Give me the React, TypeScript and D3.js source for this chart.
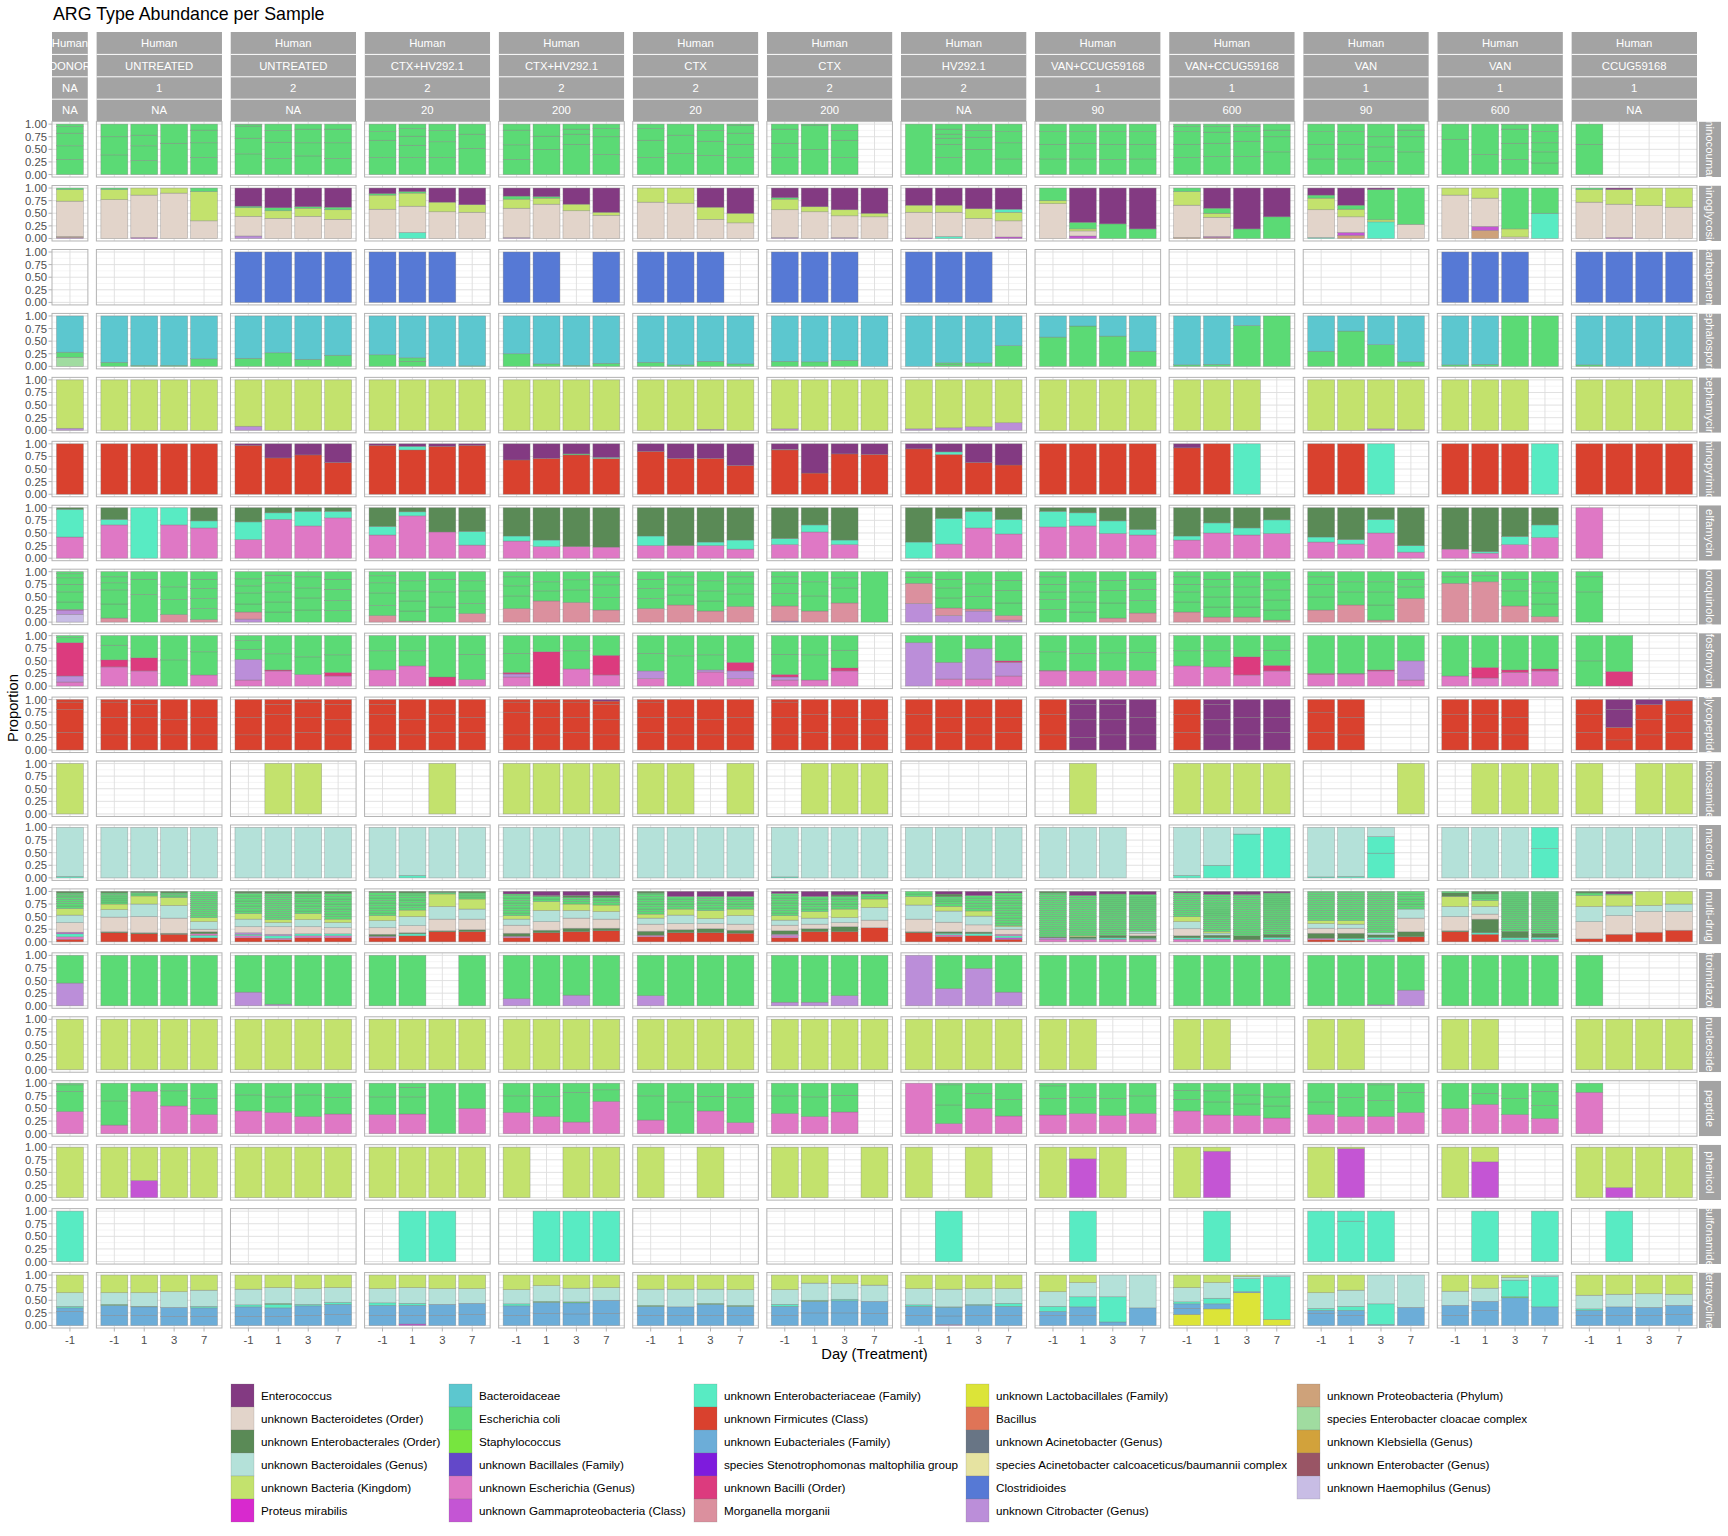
import React from "react"
import * as d3 from "d3"

const WIDTH = 1728
const HEIGHT = 1536
const FONT = "'Liberation Sans', Arial, Helvetica, sans-serif"

// taxa, in legend order (column-major, 6 per column)
const taxonCodes = [
  "EF", "BO", "EO", "BG", "BK", "PM",
  "BC", "EC", "ST", "BF", "EG", "GC",
  "EN", "FC", "EU", "SM", "BI", "MM",
  "LF", "BA", "AC", "AB", "CD", "CI",
  "PP", "ECC", "KL", "ENG", "HA",
]
const taxonNames = [
  "Enterococcus", "unknown Bacteroidetes (Order)", "unknown Enterobacterales (Order)", "unknown Bacteroidales (Genus)", "unknown Bacteria (Kingdom)", "Proteus mirabilis",
  "Bacteroidaceae", "Escherichia coli", "Staphylococcus", "unknown Bacillales (Family)", "unknown Escherichia (Genus)", "unknown Gammaproteobacteria (Class)",
  "unknown Enterobacteriaceae (Family)", "unknown Firmicutes (Class)", "unknown Eubacteriales (Family)", "species Stenotrophomonas maltophilia group", "unknown Bacilli (Order)", "Morganella morganii",
  "unknown Lactobacillales (Family)", "Bacillus", "unknown Acinetobacter (Genus)", "species Acinetobacter calcoaceticus/baumannii complex", "Clostridioides", "unknown Citrobacter (Genus)",
  "unknown Proteobacteria (Phylum)", "species Enterobacter cloacae complex", "unknown Klebsiella (Genus)", "unknown Enterobacter (Genus)", "unknown Haemophilus (Genus)",
]
const taxonColors = [
  "#833a82", "#e2d4ca", "#5a8a56", "#b4e1d9", "#c3e26d", "#d829ce",
  "#5cc7cf", "#5bda75", "#77e53f", "#6348c9", "#df78c5", "#c455d4",
  "#58ebc3", "#d9412e", "#6cadd8", "#7e1bdd", "#dc3b7e", "#db909e",
  "#dce438", "#df7457", "#687585", "#e6e3a1", "#5679d5", "#bb8ed9",
  "#cea27a", "#a0dca0", "#d2a23b", "#995565", "#c8bde5",
]

// column facets
const hosts = ["Human", "Human", "Human", "Human", "Human", "Human", "Human", "Human", "Human", "Human", "Human", "Human", "Human"]
const treatments = ["DONOR", "UNTREATED", "UNTREATED", "CTX+HV292.1", "CTX+HV292.1", "CTX", "CTX", "HV292.1", "VAN+CCUG59168", "VAN+CCUG59168", "VAN", "VAN", "CCUG59168"]
const groups = ["NA", "1", "2", "2", "2", "2", "2", "2", "1", "1", "1", "1", "1"]
const doses = ["NA", "NA", "NA", "20", "200", "20", "200", "NA", "90", "600", "90", "600", "NA"]
const days = ["-1", "1", "3", "7"]
const donorDays = ["-1"]

// row facets
const argTypes = [
  "aminocoumarin", "aminoglycoside", "carbapenem", "cephalosporin", "cephamycin", "diaminopyrimidine",
  "elfamycin", "fluoroquinolone", "fosfomycin", "glycopeptide", "lincosamide", "macrolide",
  "multi-drug", "nitroimidazole", "nucleoside", "peptide", "phenicol", "sulfonamide", "tetracycline",
]

const yTicks = [0, 0.25, 0.5, 0.75, 1]

// one string per column; bars split by "|", segments bottom-to-top as TAXON+proportion
const aminocoumarin = [
  "EC.3 EC.27 EC.25 EC.13 EC.05",
  "EC.39 EC.36 EC.25|EC.28 EC.29 EC.21 EC.22|EC.62 EC.38|EC.34 EC.29 EC.25 EC.12",
  "EC.41 EC.31 EC.24 EC.03 EC.01|EC.32 EC.32 EC.23 EC.13|EC.37 EC.26 EC.27 EC.1|EC.32 EC.31 EC.27 EC.1",
  "EC.34 EC.34 EC.17 EC.15|EC.34 EC.24 EC.18 EC.15 EC.09|EC.34 EC.31 EC.22 EC.13|EC.52 EC.28 EC.2",
  "EC.3 EC.29 EC.29 EC.12|EC.5 EC.26 EC.24|EC.6 EC.2 EC.1 EC.1|EC.4 EC.35 EC.16 EC.09",
  "EC.34 EC.34 EC.23 EC.09|EC.42 EC.36 EC.22|EC.38 EC.28 EC.21 EC.13|EC.34 EC.26 EC.22 EC.16 EC.02",
  "EC.34 EC.28 EC.28 EC.1|EC.5 EC.48 EC.02|EC.34 EC.34 EC.19 EC.13|",
  "EC1|EC.34 EC.26 EC.12 EC.08 EC.1 EC.1|EC.5 EC.24 EC.13 EC.13|EC.31 EC.32 EC.22 EC.15",
  "EC.31 EC.29 EC.25 EC.15|EC.31 EC.31 EC.23 EC.15|EC.3 EC.3 EC.25 EC.15|EC.31 EC.29 EC.25 EC.15",
  "EC.34 EC.26 EC.25 EC.1 EC.05|EC.36 EC.26 EC.22 EC.11 EC.05|EC.36 EC.3 EC.19 EC.1 EC.05|EC.45 EC.3 EC.13 EC.12",
  "EC.31 EC.29 EC.25 EC.15|EC.31 EC.29 EC.25 EC.15|EC.26 EC.29 EC.2 EC.25|EC.45 EC.3 EC.13 EC.12",
  "EC.7 EC.3|EC.4 EC.6|EC.3 EC.32 EC.28 EC.09 EC.01|EC.23 EC.22 EC.18 EC.22 EC.15",
  "EC.6 EC.4|||",
]
const aminoglycoside = [
  "CI.02 PP.02 BO.7 BK.23 EC.03",
  "BO.77 BK.2 EC.03|GC.02 BO.84 BK.14|BO.9 BK.1|BO.35 BK.58 EC.07",
  "CI.05 BO.39 BK.17 EC.03 EF.36|BO.4 BK.15 EC.06 EF.39|BO.44 BK.16 EC.03 EF.37|BO.38 BK.19 EC.05 EF.38",
  "BO.58 BK.28 EC.03 EF.11|EN.12 BO.52 BK.26 EC.03 EF.07|BO.53 BK.19 EF.28|BO.52 BK.15 EF.33",
  "CI.02 BO.58 BK.18 EC.06 EF.16|BO.68 BK.12 EC.03 EF.17|BO.55 BK.13 EF.32|BO.46 BK.06 EF.48",
  "BO.72 BK.28|BO.7 BK.3|BO.38 BK.24 EF.38|BO.31 BK.19 EF.5",
  "CI.02 BO.55 BK.21 EC.03 EF.19|BO.53 BK.1 EF.37|CI.02 BO.43 BK.12 EF.43|BO.43 BK.07 EF.5",
  "GC.01 BO.51 BK.14 EF.34|EN.04 BO.48 BK.14 EF.34|BO.4 BK.19 EF.41|GC.03 BO.32 BK.17 EN.06 EF.42",
  "BO.69 BK.06 EC.25|GC.05 BO.1 BK.04 EC.13 EF.68|EC.29 EF.71|EC.19 EF.81",
  "PP.02 BO.64 BK.27 EC.07|PP.02 GC.02 BO.38 BK.08 EC.1 EF.4|EC.19 EF.81|EC.43 EF.57",
  "EN.02 BO.55 BK.23 EC.06 EF.14|PP.06 GC.06 BO.31 BK.15 EC.08 EF.34|EN.33 BK.04 EC.6 EF.03|BO.28 EC.72",
  "BO.86 BK.14|PP.16 GC.08 BO.56 BK.2|BO.03 BK.16 EC.81|EN.5 EC.5",
  "BO.72 BK.25 EC.03|GC.02 BO.66 BK.29 EF.03|BO.65 BK.35|BO.62 BK.38",
]
const carbapenem = [
  "",
  "|||",
  "CD1|CD1|CD1|CD1",
  "CD1|CD1|CD1|",
  "CD1|CD1||CD1",
  "CD1|CD1|CD1|",
  "CD1|CD1|CD1|",
  "CD1|CD1|CD1|",
  "|||",
  "|||",
  "|||",
  "CD1|CD1|CD1|",
  "CD1|CD1|CD1|CD1",
]
const cephalosporin = [
  "ECC.18 EC.1 BC.72",
  "EC.08 BC.92|EC.02 BC.98|EC.02 BC.98|EC.15 BC.85",
  "EC.16 BC.84|EC.27 BC.73|EC.14 BC.86|EC.22 BC.78",
  "EC.23 BC.77|EC.1 EC.07 BC.83|BC1|EC.01 BC.99",
  "EC.25 BC.75|EC.05 BC.95|EC.02 BC.98|EC.06 BC.94",
  "EC.08 BC.92|EC.03 BC.97|EC.1 BC.9|EC.05 BC.95",
  "EC.1 BC.9|EC.09 BC.91|EC.12 BC.88|BC1",
  "BC1|EC.04 EC.03 BC.93|EC.07 BC.93|EC.41 BC.59",
  "EC.58 BC.42|EC.8 BC.2|EC.6 BC.4|EC.3 BC.7",
  "EC.03 BC.97|EC.04 BC.96|EC.81 BC.19|EC1",
  "EC.3 BC.7|EC.7 BC.3|EC.43 BC.57|EC.09 BC.91",
  "EC.03 BC.97|EC.04 BC.96|EC1|EC1",
  "EC.03 BC.97|BC1|BC1|BC1",
]
const cephamycin = [
  "CI.04 BK.96",
  "BK1|BK1|BK1|BK1",
  "CI.08 BK.92|BK1|BK1|BK1",
  "BK1|BK1|BK1|BK1",
  "BK1|BK1|BK1|BK1",
  "BK1|BK1|CI.02 BK.98|BK1",
  "CI.03 BK.97|BK1|BK1|BK1",
  "CI.03 BK.97|CI.05 BK.95|CI.07 BK.93|CI.15 BK.85",
  "BK1|BK1|BK1|BK1",
  "BK1|BK1|BK1|",
  "BK1|BK1|CI.03 BK.97|CI.01 BK.99",
  "BK1|BK1|BK1|",
  "BK1|BK1|BK1|BK1",
]
const diaminopyrimidine = [
  "FC1",
  "FC1|FC1|FC1|FC1",
  "FC.97 EF.03|FC.72 EF.28|FC.78 EF.22|FC.63 EF.37",
  "FC.97 EF.03|FC.88 EN.07 EF.05|FC.95 EF.05|FC.97 EF.03",
  "FC.68 EF.32|FC.71 EF.29|FC.78 EC.02 EF.2|FC.71 EN.02 EF.27",
  "FC.85 EF.15|FC.71 EF.29|FC.71 EF.29|FC.57 EF.43",
  "FC.88 BO.01 EF.11|FC.42 EF.58|FC.8 EF.2|FC.79 EF.21",
  "FC.9 EF.1|FC.79 EN.05 EF.16|FC.63 EF.37|FC.58 EF.42",
  "FC1|FC1|FC1|FC1",
  "FC.92 EF.08|FC1|EN1|",
  "FC1|FC1|EN1|",
  "FC1|FC1|FC1|EN1",
  "FC1|FC1|FC1|FC1",
]
const elfamycin = [
  "EG.42 EN.55 EO.03",
  "EG.66 EN.11 EO.23|EN1|EG.66 EN.34|EG.6 EN.14 EO.26",
  "EG.37 EN.35 EO.28|EG.77 EN.13 EO.1|EG.64 EN.29 EO.07|EG.8 EN.13 EO.07",
  "EG.46 EN.17 EO.37|EG.84 EN.08 EO.08|EG.52 EO.48|EG.26 EN.27 EO.47",
  "EG.34 EN.1 EO.56|EG.23 EN.13 EO.64|EG.23 EO.77|EG.22 EO.78",
  "EG.25 EN.19 EO.56|EG.25 EO.75|EG.25 EN.07 EO.68|EG.18 EN.18 EO.64",
  "EG.27 EN.12 EO.61|EG.52 EN.14 EO.34|EG.27 EN.09 EO.64|",
  "EN.32 EO.68|EG.28 EN.51 EO.21|EG.6 EN.33 EO.07|EG.48 EN.29 EO.23",
  "EG.62 EN.31 EO.07|EG.64 EN.26 EO.1|EG.49 EN.25 EO.26|EG.46 EN.11 EO.43",
  "EG.36 EN.08 EO.56|EG.5 EN.2 EO.3|EG.46 EN.14 EO.4|EG.49 EN.27 EO.24",
  "EG.32 EN.1 EO.58|EG.28 EN.09 EO.63|EG.5 EN.27 EO.23|EG.12 EN.13 EO.75",
  "EG.18 EO.82|EG.1 EN.03 EO.87|EG.27 EN.16 EO.57|EG.41 EN.25 EO.34",
  "EG1|||",
]
const fluoroquinolone = [
  "HA.15 CI.08 GC.02 EC.15 EC.2 EC.15 EC.13 EC.08 EC.04",
  "MM.08 EC.28 EC.28 EC.14 EC.12 EC.1|EC.55 EC.3 EC.15|MM.15 EC.3 EC.25 EC.3|MM.05 EC.22 EC.2 EC.2 EC.18 EC.15",
  "CI.06 MM.14 EC.16 EC.22 EC.14 EC.14 EC.14|EC.2 EC.2 EC.2 EC.18 EC.15 EC.07|EC.24 EC.24 EC.2 EC.22 EC.1|EC.23 EC.2 EC.22 EC.2 EC.15",
  "MM.13 EC.2 EC.25 EC.2 EC.14 EC.08|MM.02 EC.2 EC.2 EC.2 EC.2 EC.18|EC.3 EC.3 EC.25 EC.15|MM.17 EC.2 EC.25 EC.2 EC.18",
  "MM.27 EC.25 EC.2 EC.18 EC.1|MM.42 EC.2 EC.18 EC.2|MM.39 EC.25 EC.2 EC.16|MM.24 EC.25 EC.25 EC.16 EC.1",
  "MM.27 EC.2 EC.2 EC.18 EC.15|MM.34 EC.2 EC.2 EC.16 EC.1|MM.22 EC.2 EC.2 EC.2 EC.18|MM.31 EC.25 EC.2 EC.14 EC.1",
  "CI.02 MM.3 EC.25 EC.2 EC.13 EC.1|MM.22 EC.3 EC.28 EC.2|MM.38 EC.3 EC.2 EC.12|EC1",
  "CI.37 MM.4 EC.12 EC.11|CI.13 MM.15 EC.2 EC.2 EC.17 EC.15|CI.22 MM.04 EC.25 EC.25 EC.24|CI.04 MM.09 EC.25 EC.25 EC.2 EC.17",
  "EC.25 EC.2 EC.15 EC.15 EC.15 EC.1|EC.2 EC.2 EC.2 EC.2 EC.2|MM.08 EC.3 EC.25 EC.2 EC.17|MM.18 EC.25 EC.22 EC.2 EC.15",
  "MM.2 EC.2 EC.2 EC.15 EC.15 EC.1|MM.1 EC.2 EC.2 EC.2 EC.15 EC.15|MM.1 EC.2 EC.2 EC.2 EC.2 EC.1|MM.04 EC.2 EC.2 EC.2 EC.2 EC.16",
  "MM.24 EC.26 EC.25 EC.15 EC.1|MM.34 EC.26 EC.2 EC.2|MM.04 EC.3 EC.26 EC.2 EC.2|MM.47 EC.23 EC.15 EC.15",
  "MM.77 EC.13 EC.1|MM.8 EC.12 EC.08|MM.32 EC.3 EC.23 EC.15|MM.11 EC.25 EC.22 EC.22 EC.2",
  "EC.6 EC.3 EC.1|||",
]
const fosfomycin = [
  "EG.08 CI.12 BI.66 EC.1 EC.04",
  "EG.38 BI.14 EC.29 EC.19|EG.3 BI.26 EC.44|EC.52 EC.48|EG.22 EC.46 EC.32",
  "EG.12 CI.41 EC.2 EC.17 EC.1|EG.3 BI.02 EC.32 EC.36|EG.23 EC.35 EC.42|EG.2 BI.07 EC.35 EC.38",
  "EG.32 EC.38 EC.3|EG.4 EC.3 EC.3|BI.18 EC.82|EG.13 EC.5 EC.37",
  "EG.18 CI.06 BI.03 EC.38 EC.35|BI.68 EC.32|EG.34 EC.36 EC.3|EG.22 BI.39 EC.39",
  "EG.15 CI.15 EC.35 EC.35|EC.6 EC.4|EG.28 CI.04 EC.3 EC.38|EG.15 CI.15 BI.17 EC.53",
  "EG.12 CI.06 BI.05 EC.4 EC.37|EG.12 EC.5 EC.38|EG.3 BI.06 EC.35 EC.29|",
  "CI.86 EC.14|EG.14 CI.33 EC.53|EG.14 CI.6 EC.26|EG.2 CI.27 BI.03 EC.5",
  "EG.3 BI.01 EC.37 EC.32|EG.3 EC.35 EC.35|EG.31 EC.35 EC.34|EG.31 EC.36 EC.33",
  "EG.4 EC.3 EC.3|EG.38 EC.32 EC.3|EG.22 BI.36 EC.42|EG.3 BI.11 EC.3 EC.29",
  "EG.23 BI.02 EC.75|EG.24 BI.01 EC.75|EG.3 BI.02 EC.68|EG.12 CI.38 EC.5",
  "EG.2 EC.8|EG.16 BI.21 EC.63|EG.27 BI.05 EC.68|EG.3 BI.04 EC.66",
  "EC.5 EC.5|BI.29 EC.71||",
]
const glycopeptide = [
  "FC.35 FC.45 FC.15 FC.05",
  "FC.3 FC.35 FC.3 FC.05|FC.3 FC.35 FC.25 FC.1|FC.3 FC.3 FC.4|FC.3 FC.35 FC.35",
  "FC.3 FC.35 FC.35|FC.3 FC.4 FC.2 FC.1|FC.35 FC.3 FC.3 FC.05|FC.3 FC.3 FC.3 FC.1",
  "FC.3 FC.4 FC.2 FC.1|FC.3 FC.3 FC.4|FC.35 FC.35 FC.3|FC.35 FC.3 FC.35",
  "FC.3 FC.45 FC.2 FC.05|FC.3 FC.35 FC.3 FC.05|FC.35 FC.3 FC.3 FC.05|FC.3 FC.3 FC.3 FC.07 EF.03",
  "FC.35 FC.3 FC.3 FC.05|FC.3 FC.35 FC.35|FC.3 FC.3 FC.4|FC.3 FC.35 FC.35",
  "FC.3 FC.35 FC.3 FC.05|FC.35 FC.35 FC.3|FC.3 FC.35 FC.35|FC.3 FC.3 FC.4",
  "FC.3 FC.4 FC.3|FC.35 FC.3 FC.35|FC.3 FC.35 FC.35|FC.35 FC.3 FC.35",
  "FC.3 FC.4 FC.3|EF.25 EF.35 EF.3 EF.1|EF.3 EF.3 EF.3 EF.1|EF.3 EF.35 EF.35",
  "FC.35 FC.35 FC.3|EF.3 EF.3 EF.3 EF.1|EF.3 EF.35 EF.35|EF.35 EF.3 EF.35",
  "FC.35 FC.4 FC.25|FC.3 FC.35 FC.35||",
  "FC.35 FC.35 FC.3|FC.35 FC.35 FC.3|FC.3 FC.35 FC.35|",
  "FC.35 FC.35 FC.3|FC.2 FC.25 EF.35 EF.2|FC.3 FC.3 FC.3 EF.1|FC.35 FC.35 FC.28 EF.02",
]
const lincosamide = [
  "BK1",
  "|||",
  "|BK1|BK1|",
  "||BK1|",
  "BK1|BK1|BK1|BK1",
  "BK1|BK1||BK1",
  "|BK1|BK1|BK1",
  "|||",
  "|BK1||",
  "BK1|BK1|BK1|BK1",
  "|||BK1",
  "|BK1|BK1|BK1",
  "BK1||BK1|BK1",
]
const macrolide = [
  "EN.03 BG.97",
  "BG1|BG1|BG1|BG1",
  "BG1|BG1|BG1|BG1",
  "BG1|EN.05 BG.95|BG1|BG1",
  "BG1|BG1|BG1|BG1",
  "BG1|BG1|BG1|BG1",
  "EN.02 BG.98|BG1|BG1|BG1",
  "BG1|BG1|BG1|BG1",
  "BG1|BG1|BG1|",
  "EN.05 BG.95|EN.25 BG.75|EN.87 BG.13|EN1",
  "EN.02 BG.98|EN.03 BG.97|EN.49 EN.33 BG.18|",
  "BG1|BG1|BG1|EN.58 EN.42",
  "BG1|BG1|BG1|BG1",
]
const multiDrug = [
  "FC.05 EG.05 EN.06 GC.03 BO.19 BG.15 BK.13 EC.05 EC.05 EC.04 EC.04 EC.04 EC.03 EC.03 EC.03 EO.03",
  "FC.18 EO.02 BO.29 BG.15 BK.11 EC.04 EC.04 EC.04 EC.04 EC.03 EC.03 EO.03|FC.16 EO.02 BO.32 BG.25 BK.16 EC.04 EC.03 EO.02|FC.15 EO.02 BO.3 BG.25 BK.16 EC.03 EC.03 EC.03 EO.03|FC.08 EN.05 EG.03 EO.04 BO.05 BG.15 BK.08 EC.04 EC.04 EC.04 EC.04 EC.04 EC.04 EC.04 EC.04 EC.04 EC.04 EC.04 EC.04 EC.04",
  "FC.08 EG.04 EN.03 CI.03 BO.12 BG.15 BK.11 EC.05 EC.05 EC.05 EC.05 EC.05 EC.05 EC.05 EC.05 EC.01 EO.03|FC.04 EG.03 EN.05 CI.03 BO.15 BG.08 BK.06 EC.04 EC.04 EC.04 EC.04 EC.04 EC.04 EC.04 EC.04 EC.04 EC.04 EC.04 EC.04 EC.04 EO.04|FC.08 EG.04 EN.04 BO.14 BG.14 BK.12 EC.05 EC.05 EC.05 EC.05 EC.05 EC.05 EC.05 EC.05 EO.04|FC.08 EG.04 EN.04 BO.12 BG.1 BK.07 EC.05 EC.05 EC.05 EC.05 EC.05 EC.05 EC.05 EC.05 EC.05 EC.06 EO.04",
  "FC.08 EG.03 EO.04 BO.13 BG.14 BK.1 EC.05 EC.05 EC.05 EC.05 EC.05 EC.05 EC.05 EC.05 EC.06 EO.02|FC.12 EN.04 EO.02 BO.14 BG.18 BK.13 EC.05 EC.05 EC.05 EC.05 EC.05 EC.05 EC.04 EO.03|FC.2 EO.02 BO.23 BG.25 BK.25 EC.03 EO.02|FC.2 EO.04 BO.21 BG.2 BK.2 EC.04 EC.04 EC.04 EO.03",
  "FC.08 EG.03 EO.06 BO.16 BG.12 BK.07 EC.05 EC.05 EC.05 EC.05 EC.05 EC.05 EC.05 EC.05 EC.03 EF.05|FC.18 EO.05 BO.17 BG.22 BK.18 EC.05 EC.05 EO.02 EF.08|FC.2 EO.07 BO.2 BG.15 BK.13 EC.05 EC.04 EC.04 EO.04 EF.08|FC.22 EO.05 BO.18 BG.15 BK.13 EC.05 EC.05 EC.05 EO.04 EF.08",
  "FC.1 EG.03 EO.08 BO.14 BG.12 BK.08 EC.05 EC.05 EC.05 EC.05 EC.05 EC.05 EC.05 EC.05 EC.02 EO.03|FC.18 EO.06 BO.12 BG.17 BK.12 EC.05 EC.05 EC.05 EC.05 EC.05 EF.1|FC.18 EO.08 BO.1 BG.1 BK.16 EC.05 EC.05 EC.05 EC.05 EC.04 EC.04 EF.1|FC.17 EO.06 BO.12 BG.17 BK.13 EC.05 EC.05 EC.05 EC.05 EC.05 EF.1",
  "FC.08 EG.04 CI.03 EO.07 BO.11 BG.1 BK.09 EC.05 EC.05 EC.05 EC.05 EC.05 EC.05 EC.05 EC.05 EC.04 EF.04|FC.2 EO.06 BO.09 BG.12 BK.13 EC.05 EC.05 EC.05 EC.05 EC.05 EC.05 EF.1|FC.2 EO.1 BO.08 BG.1 BK.17 EC.05 EC.05 EC.05 EC.05 EC.05 EO.03 EF.07|FC.28 BO.15 BG.25 BK.17 EC.05 EC.05 EF.05",
  "FC.18 EO.02 BO.25 BG.28 BK.17 EC.05 EC.05|FC.1 EG.03 EN.03 EO.03 BO.18 BG.21 BK.09 EC.05 EC.05 EC.04 EC.04 EO.05 EF.05|FC.12 EN.04 EO.03 BO.14 BG.17 BK.1 EC.05 EC.05 EC.05 EC.05 EC.05 EC.05 EF.08|FC.05 GC.03 EN.04 EG.03 BO.1 BG.05 BK.02 EC.05 EC.05 EC.05 EC.05 EC.05 EC.05 EC.05 EC.05 EC.05 EC.05 EC.05 EC.05 EC.05 EF.03",
  "EG.05 CI.03 EO.02 EC.04 EC.04 EC.04 EC.04 EC.04 EC.04 EC.04 EC.04 EC.04 EC.04 EC.04 EC.04 EC.04 EC.04 EC.04 EC.04 EC.04 EC.04 EC.04 EC.04 EC.04 EC.03 EO.03|EG.05 EN.02 EO.03 BK.02 EC.04 EC.04 EC.04 EC.04 EC.04 EC.04 EC.04 EC.04 EC.04 EC.04 EC.04 EC.04 EC.04 EC.04 EC.04 EC.04 EC.04 EC.04 EC.04 EC.04 EF.08|EG.05 EN.03 EO.05 EC.04 EC.04 EC.04 EC.04 EC.04 EC.04 EC.04 EC.04 EC.04 EC.04 EC.04 EC.04 EC.04 EC.04 EC.04 EC.04 EC.04 EC.04 EC.04 EC.04 EC.02 EF.05|EG.05 EN.02 EO.05 BO.05 BG.04 EC.04 EC.04 EC.04 EC.04 EC.04 EC.04 EC.04 EC.04 EC.04 EC.04 EC.04 EC.04 EC.04 EC.04 EC.04 EC.04 EC.04 EC.05 EF.06",
  "EG.05 EN.03 EO.04 BO.14 BG.14 BK.1 EC.04 EC.04 EC.04 EC.04 EC.04 EC.04 EC.04 EC.04 EC.04 EC.04 EC.04 EC.03 EF.03|EG.05 EN.03 EO.05 BG.04 BK.03 EC.04 EC.04 EC.04 EC.04 EC.04 EC.04 EC.04 EC.04 EC.04 EC.04 EC.04 EC.04 EC.04 EC.04 EC.04 EC.04 EC.04 EC.04 EF.06|EG.04 EO.08 EC.04 EC.04 EC.04 EC.04 EC.04 EC.04 EC.04 EC.04 EC.04 EC.04 EC.04 EC.04 EC.04 EC.04 EC.04 EC.04 EC.04 EC.04 EC.04 EC.04 EC.02 EF.06|EG.05 EN.04 EO.06 EC.04 EC.04 EC.04 EC.04 EC.04 EC.04 EC.04 EC.04 EC.04 EC.04 EC.04 EC.04 EC.04 EC.04 EC.04 EC.04 EC.04 EC.04 EC.04 EC.04 EC.02 EF.03",
  "FC.04 EG.03 EO.1 BO.1 BG.09 BK.06 EC.04 EC.04 EC.04 EC.04 EC.04 EC.04 EC.04 EC.04 EC.04 EC.04 EC.04 EC.04 EC.04 EC.04 EC.02|FC.03 EN.04 EO.1 BO.1 BG.08 BK.07 EC.04 EC.04 EC.04 EC.04 EC.04 EC.04 EC.04 EC.04 EC.04 EC.04 EC.04 EC.04 EC.04 EC.04 EC.02|EG.05 EN.04 EO.05 BG.04 EC.04 EC.04 EC.04 EC.04 EC.04 EC.04 EC.04 EC.04 EC.04 EC.04 EC.04 EC.04 EC.04 EC.04 EC.04 EC.04 EC.04 EC.04 EC.04 EC.04 EC.02|FC.1 EO.1 BO.27 BG.18 EC.05 EC.05 EC.05 EC.05 EC.05 EC.05 EC.05",
  "FC.2 EO.02 BO.28 BG.2 BK.2 EO.07 EC.03|FC.15 EN.03 EO.27 BO.1 BG.15 BK.12 EC.05 EC.04 EC.04 EO.05|EG.04 EN.04 EO.13 EC.04 EC.04 EC.04 EC.04 EC.04 EC.04 EC.04 EC.04 EC.04 EC.04 EC.04 EC.04 EC.04 EC.04 EC.04 EC.04 EC.04 EC.04 EC.04 EC.03|EG.05 EN.04 EO.08 EC.04 EC.04 EC.04 EC.04 EC.04 EC.04 EC.04 EC.04 EC.04 EC.04 EC.04 EC.04 EC.04 EC.04 EC.04 EC.04 EC.04 EC.04 EC.04 EC.04 EC.03",
  "FC.06 BO.34 BG.3 BK.22 EC.05 EO.03|FC.15 BO.37 BG.19 BK.22 EC.02 EF.05|FC.19 BO.41 BG.12 BK.28|FC.23 BO.37 BG.15 BK.25",
]
const nitroimidazole = [
  "CI.45 EC.55",
  "EC1|EC1|EC1|EC1",
  "CI.27 EC.73|CI.03 EC.97|EC1|EC1",
  "EC1|EC1||EC1",
  "CI.14 EC.86|EC1|CI.21 EC.79|EC1",
  "CI.2 EC.8|EC1|EC1|EC1",
  "CI.07 EC.93|CI.07 EC.93|CI.2 EC.8|EC1",
  "CI1|CI.34 EC.66|CI.74 EC.26|CI.27 EC.73",
  "EC1|EC1|EC1|EC1",
  "EC1|EC1|EC1|EC1",
  "EC1|EC1|CI.02 EC.98|CI.31 EC.69",
  "EC1|EC1|EC1|EC1",
  "EC1|||",
]
const nucleoside = [
  "BK1",
  "BK1|BK1|BK1|BK1",
  "BK1|BK1|BK1|BK1",
  "BK1|BK1|BK1|BK1",
  "BK1|BK1|BK1|BK1",
  "BK1|BK1|BK1|BK1",
  "BK1|BK1|BK1|BK1",
  "BK1|BK1|BK1|BK1",
  "BK1|BK1||",
  "BK1|BK1||",
  "BK1|BK1||",
  "BK1|BK1||",
  "BK1|BK1|BK1|BK1",
]
const peptide = [
  "EG.44 EC.4 EC.13 EC.03",
  "EG.17 EC.48 EC.35|EG.84 EC.16|EG.55 EC.3 EC.15|EG.38 EC.32 EC.3",
  "EG.45 EC.32 EC.23|EG.42 EC.31 EC.27|EG.34 EC.43 EC.23|EG.39 EC.33 EC.28",
  "EG.38 EC.35 EC.27|EG.39 EC.34 EC.19 EC.08|EC1|EG.5 EC.5",
  "EG.42 EC.33 EC.25|EG.34 EC.4 EC.26|EG.23 EC.59 EC.18|EG.64 EC.23 EC.13",
  "EG.27 EC.48 EC.25|EC.63 EC.37|EG.45 EC.29 EC.26|EG.22 EC.5 EC.28",
  "EG.4 EC.35 EC.25|EG.34 EC.39 EC.27|EG.43 EC.33 EC.24|",
  "EG1|EG.2 EC.37 EC.4 EC.03|EG.5 EC.3 EC.2|EG.35 EC.33 EC.32",
  "EG.37 EC.33 EC.25 EC.05|EG.4 EC.32 EC.28|EG.36 EC.34 EC.3|EG.4 EC.35 EC.25",
  "EG.45 EC.23 EC.18 EC.14|EG.37 EC.26 EC.22 EC.15|EG.36 EC.23 EC.18 EC.23|EG.31 EC.24 EC.18 EC.27",
  "EG.38 EC.25 EC.37|EG.34 EC.38 EC.28|EG.34 EC.32 EC.31 EC.03|EG.42 EC.4 EC.18",
  "EG.5 EC.5|EG.58 EC.22 EC.2|EG.38 EC.32 EC.3|EG.3 EC.26 EC.28 EC.16",
  "EG.82 EC.18|||",
]
const phenicol = [
  "BK1",
  "BK1|GC.34 BK.66|BK1|BK1",
  "BK1|BK1|BK1|BK1",
  "BK1|BK1|BK1|BK1",
  "BK1||BK1|BK1",
  "BK1||BK1|",
  "BK1|BK1||BK1",
  "BK1||BK1|",
  "BK1|GC.77 BK.23|BK1|",
  "BK1|GC.92 BK.08||",
  "BK1|GC.97 BK.03||",
  "BK1|GC.71 BK.29||",
  "BK1|GC.2 BK.8|BK1|BK1",
]
const sulfonamide = [
  "EN1",
  "|||",
  "|||",
  "|EN1|EN1|",
  "|EN1|EN1|EN1",
  "|||",
  "|||",
  "|EN1||",
  "|EN1||",
  "|EN1||",
  "EN1|EN.8 EN.2|EN1|",
  "|EN1||EN1",
  "|EN1||",
]
const tetracycline = [
  "EU.28 EU.07 EN.03 BG.27 BK.35",
  "EU.2 EU.2 EC.02 BG.23 BK.35|EU.2 EU.17 EC.01 BG.27 BK.35|EU.18 EU.18 BG.31 BK.33|EU.18 EU.17 EN.03 BG.32 BK.3",
  "EU.18 EU.19 EN.04 BG.31 BK.28|EU.18 EU.17 EN.07 EC.02 BG.31 BK.25|EU.2 EU.19 EN.03 BG.31 BK.27|EU.22 EU.2 EN.04 BG.29 BK.25",
  "EU.2 EU.2 EN.05 BG.28 BK.27|GC.03 EU.17 EU.2 EN.04 BG.31 BK.25|EU.2 EU.22 BG.31 BK.27|EU.22 EU.22 BG.29 BK.27",
  "EU.2 EU.19 EN.04 BG.28 BK.29|EU.24 EU.22 EC.02 BG.31 BK.21|EU.23 EU.22 EC.02 BG.27 BK.26|EU.24 EU.26 BG.25 BK.25",
  "EU.2 EU.18 EC.02 BG.32 BK.28|EU.2 EU.17 BG.35 BK.28|EU.2 EU.22 EC.02 BG.28 BK.28|EU.2 EU.18 EC.02 BG.31 BK.29",
  "EU.2 EU.18 EN.04 BG.29 BK.29|EU.25 EU.23 EC.02 BG.34 BK.16|EU.25 EU.24 EN.03 BG.31 BK.17|EU.24 EU.24 BG.32 BK.2",
  "EU.2 EU.18 EN.03 BG.32 BK.27|CI.02 EU.17 EU.17 EN.01 BG.35 BK.28|EU.2 EU.2 EN.02 BG.31 BK.27|EU.2 EU.18 EN.06 BG.29 BK.27",
  "EU.2 EU.08 EN.1 BG.29 BK.33|EU.2 EU.17 EN.2 BG.28 BK.15|EU.07 EN.5 BG.43|EU.35 BG.65",
  "LF.22 EU.12 EU.09 EN.04 BG.28 BK.25|LF.33 EU.1 EN.11 BG.31 BK.15|LF.65 EU.02 EN.26 BG.04 BK.03|LF.12 EN.85 BG.03",
  "EU.24 EU.06 EN.04 BG.31 BK.35|EU.2 EU.1 EN.08 BG.32 BK.3|EU.02 EN.41 BG.57|EU.36 BG.64",
  "EU.2 EU.2 BG.28 BK.32|EU.3 EU.18 BG.26 BK.26|EU.55 EC.02 EN.33 BG.05 BK.05|EU.37 EN.6 BG.03",
  "EU.2 EU.1 EN.03 BG.27 BK.4|EU.2 EU.17 BG.25 BK.38|EU.2 EU.16 BG.27 BK.37|EU.22 EU.18 BG.22 BK.38",
]

const rowData = [
  aminocoumarin, aminoglycoside, carbapenem, cephalosporin, cephamycin, diaminopyrimidine,
  elfamycin, fluoroquinolone, fosfomycin, glycopeptide, lincosamide, macrolide,
  multiDrug, nitroimidazole, nucleoside, peptide, phenicol, sulfonamide, tetracycline,
]

const parseBar = (s) => {
  const toks = s.trim().split(/\s+/).filter(Boolean)
  if (!toks.length) return null
  return toks.map((t) => {
    const m = t.match(/^([A-Z]+)([\d.]+)$/)
    return { code: m[1], value: +m[2] }
  })
}

// layout
const LEFT = 52
const RIGHT = 1697
const STRIP_TOP = 32
const STRIP_ROW = 22.4
const TOP = STRIP_TOP + STRIP_ROW * 4
const BOTTOM = 1328
const GAP = 8.5
const RSTRIP_W = 22

const BAR_STROKE = "#7a7a7a"

export default function App() {
  const colorOf = new Map(taxonCodes.map((c, i) => [c, taxonColors[i]]))
  const colDays = treatments.map((t, i) => (i === 0 ? donorDays : days))
  const units = colDays.map((d) => d.length + 0.2)
  const unit = (RIGHT - LEFT - GAP * (units.length - 1)) / d3.sum(units)
  let cursor = LEFT
  const cols = units.map((u, i) => {
    const x0 = cursor
    const w = u * unit
    cursor += w + GAP
    const x = d3.scaleBand(colDays[i], [x0, x0 + w]).paddingInner(0.1).paddingOuter(0.15)
    return { x0, w, x }
  })
  const ph = (BOTTOM - TOP - GAP * (argTypes.length - 1)) / argTypes.length
  const rows = argTypes.map((name, r) => {
    const y0 = TOP + r * (ph + GAP)
    const y = d3.scaleLinear([-0.05, 1.05], [y0 + ph, y0])
    return { name, y0, y }
  })
  const minor = [0.125, 0.375, 0.625, 0.875]

  const panels = []
  rows.forEach((row, r) => {
    cols.forEach((col, c) => {
      const bars = rowData[r][c].split("|").map(parseBar)
      panels.push(
        <g key={`p-${r}-${c}`}>
          <rect x={col.x0} y={row.y0} width={col.w} height={ph} fill="#fff" />
          {minor.map((v) => (
            <line key={`mi${v}`} x1={col.x0} x2={col.x0 + col.w} y1={row.y(v)} y2={row.y(v)} stroke="#efefef" strokeWidth={0.6} />
          ))}
          {yTicks.map((v) => (
            <line key={`ma${v}`} x1={col.x0} x2={col.x0 + col.w} y1={row.y(v)} y2={row.y(v)} stroke="#dedede" strokeWidth={0.9} />
          ))}
          {colDays[c].map((d) => (
            <line key={`vx${d}`} x1={col.x(d) + col.x.bandwidth() / 2} x2={col.x(d) + col.x.bandwidth() / 2} y1={row.y0} y2={row.y0 + ph} stroke="#dedede" strokeWidth={0.9} />
          ))}
          {bars.map((segs, b) => {
            if (!segs) return null
            const day = colDays[c][b]
            const total = d3.sum(segs, (s) => s.value)
            const ends = d3.cumsum(segs, (s) => s.value)
            return (
              <g key={`b${b}`}>
                {segs.map((s, k) => {
                  const lo = row.y((ends[k] - s.value) / total)
                  const hi = row.y(ends[k] / total)
                  return (
                    <rect
                      key={k}
                      x={col.x(day)}
                      y={hi}
                      width={col.x.bandwidth()}
                      height={Math.max(0, lo - hi)}
                      fill={colorOf.get(s.code)}
                      stroke={BAR_STROKE}
                      strokeOpacity={0.55}
                      strokeWidth={0.6}
                    />
                  )
                })}
              </g>
            )
          })}
          <rect x={col.x0} y={row.y0} width={col.w} height={ph} fill="none" stroke="#b3b3b3" strokeWidth={1} />
        </g>
      )
    })
  })

  const stripLabels = [hosts, treatments, groups, doses]

  // legend layout
  const legendX = [231, 449, 694, 966, 1297]
  const legendTop = 1384
  const keySize = 23

  return (
    <svg
      width={WIDTH}
      height={HEIGHT}
      style={{ position: "absolute", left: 0, top: 0, background: "#fff", fontFamily: FONT }}
    >
      <defs>
        {cols.map((col, c) => (
          <clipPath key={c} id={`colclip${c}`}>
            <rect x={col.x0} y={STRIP_TOP} width={col.w} height={STRIP_ROW * 4} />
          </clipPath>
        ))}
        {rows.map((row, r) => (
          <clipPath key={r} id={`rowclip${r}`}>
            <rect x={RIGHT + 2} y={row.y0} width={RSTRIP_W} height={ph} />
          </clipPath>
        ))}
      </defs>
      <rect width={WIDTH} height={HEIGHT} fill="#fff" />
      <text x={53} y={20} fontSize={17.8} fill="#000">ARG Type Abundance per Sample</text>

      {/* column strips */}
      {cols.map((col, c) => (
        <g key={`s${c}`} clipPath={`url(#colclip${c})`}>
          <rect x={col.x0} y={STRIP_TOP} width={col.w} height={STRIP_ROW * 4} fill="#a3a3a3" />
          {[1, 2, 3].map((k) => (
            <line key={k} x1={col.x0} x2={col.x0 + col.w} y1={STRIP_TOP + k * STRIP_ROW} y2={STRIP_TOP + k * STRIP_ROW} stroke="#fff" strokeWidth={1} />
          ))}
          {stripLabels.map((labels, k) => (
            <text
              key={k}
              x={col.x0 + col.w / 2}
              y={STRIP_TOP + (k + 0.5) * STRIP_ROW}
              textAnchor="middle"
              dominantBaseline="central"
              fontSize={11.3}
              fill="#fff"
            >
              {labels[c]}
            </text>
          ))}
        </g>
      ))}

      {panels}

      {/* row strips */}
      {rows.map((row, r) => (
        <g key={`rs${r}`} clipPath={`url(#rowclip${r})`}>
          <rect x={RIGHT + 2} y={row.y0} width={RSTRIP_W} height={ph} fill="#a3a3a3" />
          <text
            transform={`translate(${RIGHT + 2 + RSTRIP_W / 2},${row.y0 + ph / 2}) rotate(90)`}
            textAnchor="middle"
            dominantBaseline="central"
            fontSize={11.3}
            fill="#fff"
          >
            {row.name}
          </text>
        </g>
      ))}

      {/* y axes */}
      {rows.map((row, r) => (
        <g key={`ya${r}`}>
          {yTicks.map((v) => (
            <g key={v}>
              <line x1={LEFT - 3.5} x2={LEFT} y1={row.y(v)} y2={row.y(v)} stroke="#b3b3b3" />
              <text x={LEFT - 5} y={row.y(v)} textAnchor="end" dominantBaseline="central" fontSize={11.3} fill="#4d4d4d">
                {d3.format(".2f")(v)}
              </text>
            </g>
          ))}
        </g>
      ))}

      {/* x axes */}
      {cols.map((col, c) => (
        <g key={`xa${c}`}>
          {colDays[c].map((d) => {
            const cx = col.x(d) + col.x.bandwidth() / 2
            return (
              <g key={d}>
                <line x1={cx} x2={cx} y1={BOTTOM} y2={BOTTOM + 3.5} stroke="#b3b3b3" />
                <text x={cx} y={BOTTOM + 11.5} textAnchor="middle" dominantBaseline="central" fontSize={11.3} fill="#4d4d4d">
                  {d}
                </text>
              </g>
            )
          })}
        </g>
      ))}

      <text x={(LEFT + RIGHT) / 2} y={1354} textAnchor="middle" dominantBaseline="central" fontSize={14.7} fill="#000">
        Day (Treatment)
      </text>
      <text transform={`translate(13,708) rotate(-90)`} textAnchor="middle" dominantBaseline="central" fontSize={14.7} fill="#000">
        Proportion
      </text>

      {/* legend */}
      {taxonNames.map((name, i) => {
        const col = Math.floor(i / 6)
        const rowi = i % 6
        const kx = legendX[col]
        const ky = legendTop + rowi * keySize
        return (
          <g key={name}>
            <rect x={kx} y={ky} width={keySize} height={keySize} fill={taxonColors[i]} stroke={BAR_STROKE} strokeOpacity={0.35} strokeWidth={0.6} />
            <text x={kx + 30} y={ky + keySize / 2} dominantBaseline="central" fontSize={11.7} fill="#000">
              {name}
            </text>
          </g>
        )
      })}
    </svg>
  )
}
